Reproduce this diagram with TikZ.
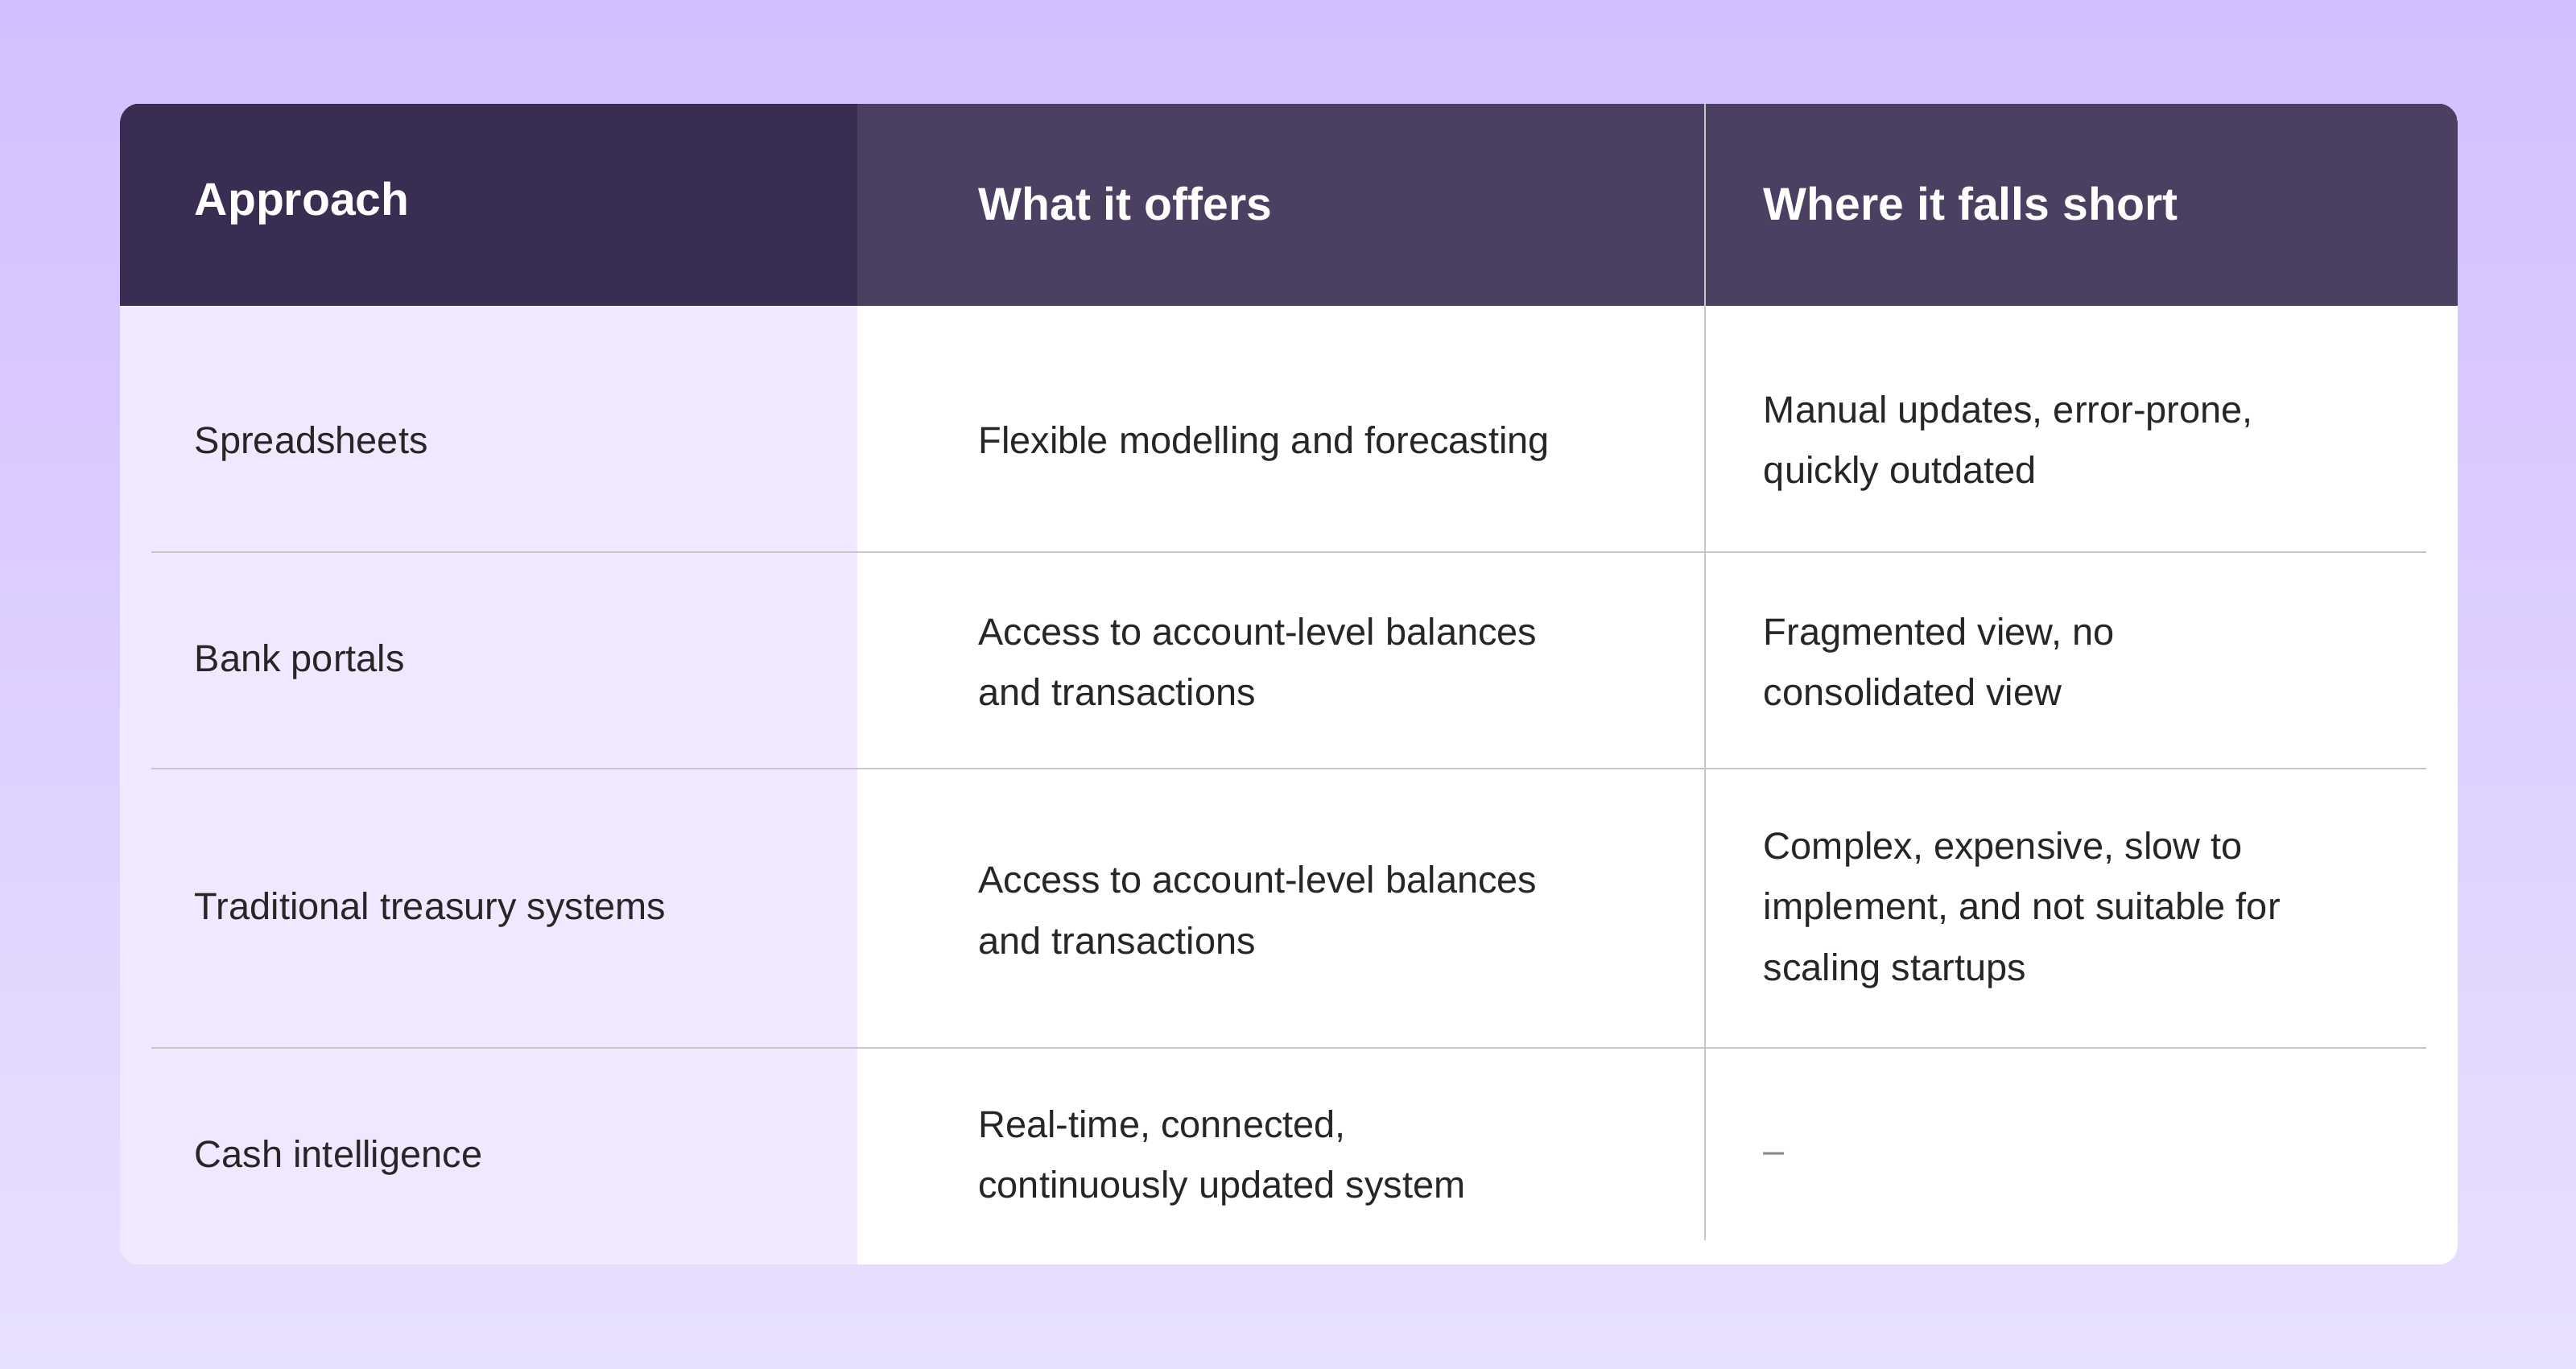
\documentclass[tikz,border=0pt]{standalone}
\usepackage{fontspec}
\setmainfont{Liberation Sans}
\definecolor{bgtop}{RGB}{211,190,255}
\definecolor{bgbot}{RGB}{232,224,255}
\definecolor{colone}{RGB}{240,232,255}
\definecolor{hdrdark}{RGB}{58,45,82}
\definecolor{hdrmid}{RGB}{75,63,98}
\begin{document}
\begin{tikzpicture}[x=1pt,y=-1pt,
  hdr/.style={anchor=west,text=white,font=\fontsize{28}{32}\selectfont\bfseries},
  cell/.style={anchor=west,align=left,text=black!85,font=\fontsize{23}{37}\selectfont},
  rule/.style={draw=black!22,line width=1pt}]
\shade[top color=bgtop,bottom color=bgbot] (0,0) rectangle (1568,833);
\useasboundingbox (0,0) rectangle (1568,833);
\begin{scope}
\clip[rounded corners=12pt] (73,63) rectangle (1496,770);
\fill[white] (73,63) rectangle (1496,770);
\fill[colone] (73,186) rectangle (522,770);
\fill[hdrdark] (73,63) rectangle (522,186);
\fill[hdrmid] (522,63) rectangle (1496,186);
\end{scope}
\draw[rule] (1038,63) -- (1038,755);
\draw[rule] (92,336) -- (1477,336);
\draw[rule] (92,468) -- (1477,468);
\draw[rule] (92,638) -- (1477,638);
\node[hdr] (h1) at (115,124) {Approach};
\node[hdr] (h2) at (592,124) {What it offers};
\node[hdr] (h3) at (1070,124) {Where it falls short};
\node[cell] (a1) at (115,270) {Spreadsheets};
\node[cell] (b1) at (592,270) {Flexible modelling and forecasting};
\node[cell] (c1) at (1070,270) {Manual updates, error-prone,\\quickly outdated};
\node[cell] (a2) at (115,403) {Bank portals};
\node[cell] (b2) at (592,403) {Access to account-level balances\\and transactions};
\node[cell] (c2) at (1070,403) {Fragmented view, no\\consolidated view};
\node[cell] (a3) at (115,554) {Traditional treasury systems};
\node[cell] (b3) at (592,554) {Access to account-level balances\\and transactions};
\node[cell] (c3) at (1070,554) {Complex, expensive, slow to\\implement, and not suitable for\\scaling startups};
\node[cell] (a4) at (115,705) {Cash intelligence};
\node[cell] (b4) at (592,705) {Real-time, connected,\\continuously updated system};
\node[cell,text=black!45] (c4) at (1070,705) {--};
\end{tikzpicture}
\end{document}
